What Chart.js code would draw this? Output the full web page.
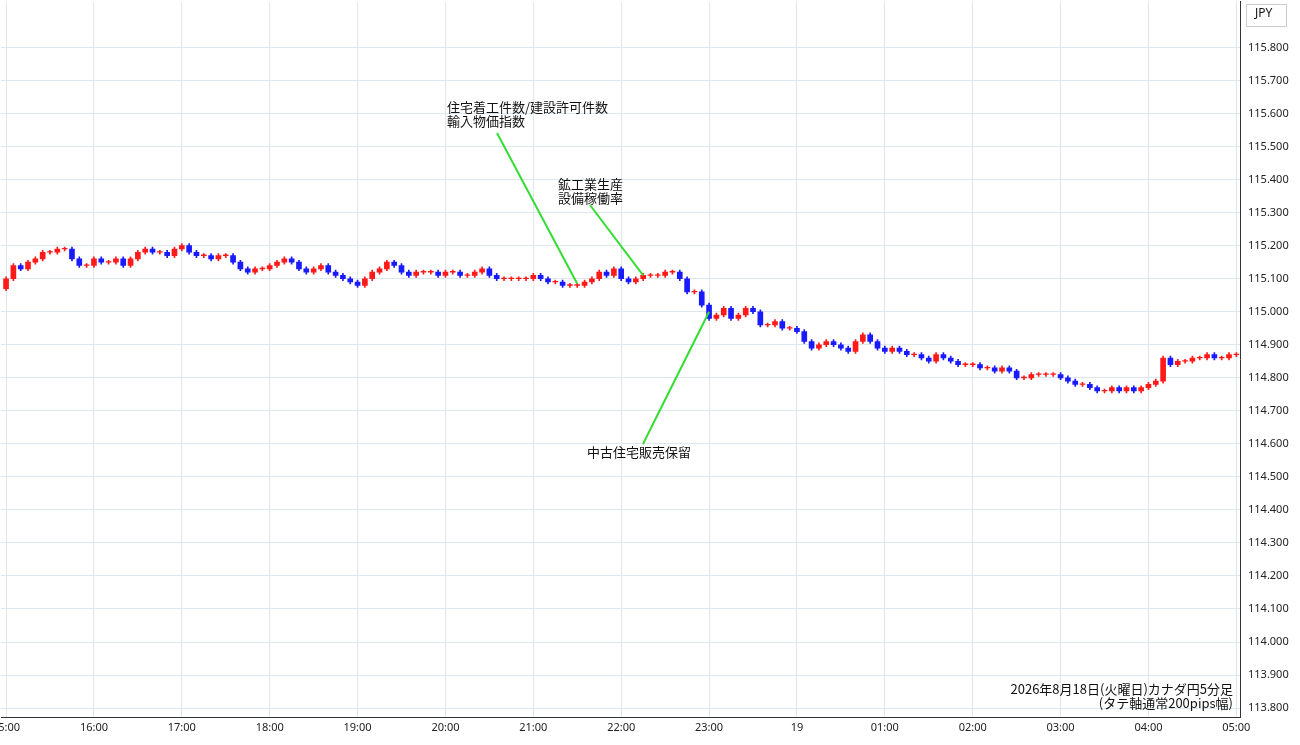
<!DOCTYPE html>
<html lang="ja">
<head>
<meta charset="UTF-8" />
<title>CAD/JPY 5分足</title>
<style>
  body { margin:0; background:#fff; overflow:hidden; }
  canvas { display:block; margin-left:-12px; margin-top:-13px; }
</style>
<script src="https://cdn.jsdelivr.net/npm/chart.js"></script>
</head>
<body>
<canvas id="c" width="1312" height="758"></canvas>
<script>
// 5分足の終値 (15:00〜05:00)
const firstOpen = 115.07;
const closes = [
  115.10,115.14,115.13,115.15,115.16,115.18,115.18,115.19,115.19,115.16,115.14,115.14,
  115.16,115.15,115.15,115.16,115.14,115.16,115.18,115.19,115.18,115.18,115.17,115.19,
  115.20,115.18,115.17,115.17,115.16,115.17,115.17,115.15,115.13,115.12,115.13,115.13,
  115.14,115.15,115.16,115.15,115.13,115.12,115.13,115.14,115.12,115.11,115.10,115.09,
  115.08,115.10,115.12,115.13,115.15,115.14,115.12,115.11,115.12,115.12,115.12,115.11,
  115.12,115.12,115.11,115.11,115.12,115.13,115.11,115.10,115.10,115.10,115.10,115.10,
  115.11,115.10,115.09,115.09,115.08,115.08,115.08,115.09,115.10,115.12,115.11,115.13,
  115.10,115.09,115.10,115.11,115.11,115.11,115.12,115.12,115.10,115.06,115.06,115.02,
  114.98,114.99,115.01,114.98,114.99,115.01,115.00,114.96,114.96,114.97,114.95,114.95,
  114.94,114.91,114.89,114.90,114.91,114.90,114.89,114.88,114.91,114.93,114.91,114.89,
  114.88,114.89,114.88,114.87,114.87,114.86,114.85,114.87,114.86,114.85,114.84,114.84,
  114.84,114.83,114.83,114.82,114.83,114.82,114.80,114.80,114.81,114.81,114.81,114.81,
  114.80,114.79,114.78,114.78,114.77,114.76,114.76,114.77,114.76,114.77,114.76,114.77,
  114.78,114.79,114.86,114.84,114.85,114.85,114.86,114.86,114.87,114.86,114.86,114.87,
  114.87
];
const hourLabels = ['15:00','16:00','17:00','18:00','19:00','20:00','21:00','22:00','23:00','19','01:00','02:00','03:00','04:00','05:00'];
const yTicks = [113.8,113.9,114.0,114.1,114.2,114.3,114.4,114.5,114.6,114.7,114.8,114.9,115.0,115.1,115.2,115.3,115.4,115.5,115.6,115.7,115.8];
// テキスト位置はページ座標 (canvas のずらし分を足す)
const OX = 12, OY = 13;
const notes = [
  { lines:['住宅着工件数/建設許可件数','輸入物価指数'], tx:447, ty:101, lx:497, ly:133, idx:78, price:115.085 },
  { lines:['鉱工業生産','設備稼働率'], tx:558, ty:178, lx:590, ly:205, idx:87, price:115.11 },
  { lines:['中古住宅販売保留'], tx:587, ty:446, lx:643, ly:444, idx:96, price:115.00 }
];
const WICK = 0.006;

const bodies = [], wicks = [], colors = [];
closes.forEach((c, i) => {
  const o = i === 0 ? firstOpen : closes[i - 1];
  const lo = Math.min(o, c), hi = Math.max(o, c);
  bodies.push({ x: i, y: [lo, hi === lo ? hi + 0.002 : hi] });
  wicks.push({ x: i, y: [lo - WICK, hi + WICK] });
  colors.push(c >= o ? '#ff1a1a' : '#1a1aff');
});

const annot = {
  id: 'annot',
  afterDatasetsDraw(chart) {
    const { ctx, scales: { x, y } } = chart;
    ctx.save();
    ctx.font = '13px "Noto Sans CJK JP", sans-serif';
    ctx.fillStyle = '#111';
    ctx.textBaseline = 'top';
    notes.forEach(n => {
      n.lines.forEach((t, k) => ctx.fillText(t, n.tx + OX, n.ty + OY + k * 14));
      ctx.strokeStyle = '#33dd33';
      ctx.lineWidth = 2;
      ctx.beginPath();
      ctx.moveTo(n.lx + OX, n.ly + OY);
      ctx.lineTo(x.getPixelForValue(n.idx), y.getPixelForValue(n.price));
      ctx.stroke();
    });
    ctx.textAlign = 'right';
    ctx.fillText('2026年8月18日(火曜日)カナダ円5分足', 1233 + OX, 683 + OY);
    ctx.fillText('(タテ軸通常200pips幅)', 1233 + OX, 697 + OY);
    ctx.textAlign = 'left';
    ctx.strokeStyle = '#ccc';
    ctx.lineWidth = 1;
    ctx.strokeRect(1246.5 + OX, 4.5 + OY, 40, 22);
    ctx.font = '12px "Noto Sans", sans-serif';
    ctx.fillText('JPY', 1255 + OX, 8 + OY);
    ctx.restore();
  }
};

new Chart(document.getElementById('c'), {
  type: 'bar',
  data: {
    datasets: [
      { data: wicks, backgroundColor: colors, barThickness: 1, grouped: false, order: 2 },
      { data: bodies, backgroundColor: colors, barThickness: 5, grouped: false, order: 1 }
    ]
  },
  options: {
    responsive: false,
    animation: false,
    plugins: { legend: { display: false }, tooltip: { enabled: false } },
    scales: {
      x: {
        type: 'linear', min: -0.68, max: 168.5, offset: false,
        afterBuildTicks: s => { s.ticks = hourLabels.map((_, i) => ({ value: i * 12 })); },
        ticks: { callback: v => hourLabels[v / 12], maxRotation: 0, color: '#222',
                 font: { size: 11, family: 'Noto Sans' }, padding: 4 },
        grid: { color: '#dde8ee', drawTicks: false, offset: false },
        border: { color: '#333' },
        afterFit: s => { s.height = 28; }
      },
      y: {
        position: 'right', min: 113.773, max: 115.939,
        afterBuildTicks: s => { s.ticks = yTicks.map(v => ({ value: v })); },
        ticks: { callback: v => v.toFixed(3), color: '#222', font: { size: 11, family: 'Noto Sans' }, padding: 8 },
        grid: { color: '#dde8ee', drawTicks: false },
        border: { color: '#333' },
        afterFit: s => { s.width = 60; }
      }
    }
  },
  plugins: [annot]
});
</script>
</body>
</html>
